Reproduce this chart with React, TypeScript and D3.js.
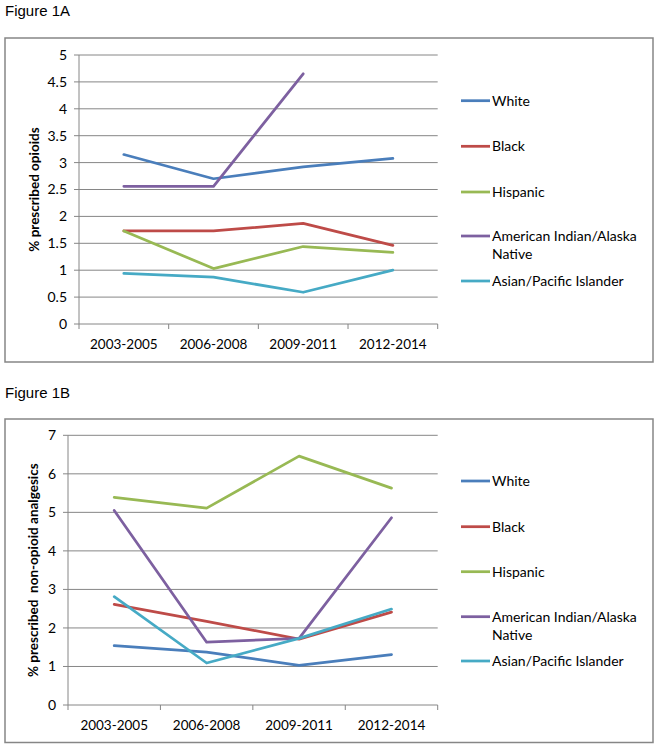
import React from "react";
import * as d3 from "d3";

const categories = ["2003-2005", "2006-2008", "2009-2011", "2012-2014"];
const seriesNames = ["White", "Black", "Hispanic", "American Indian/Alaska Native", "Asian/Pacific Islander"];
const legendLines = [["White"], ["Black"], ["Hispanic"], ["American Indian/Alaska", "Native"], ["Asian/Pacific Islander"]];
const colors = ["#4A7EBB", "#BE4B48", "#98B954", "#7D60A0", "#46AAC5"];

const opioidWhite = [3.15, 2.7, 2.92, 3.08];
const opioidBlack = [1.73, 1.73, 1.87, 1.46];
const opioidHispanic = [1.73, 1.03, 1.44, 1.33];
const opioidAIAN = [2.56, 2.56, 4.65, null];
const opioidAsian = [0.94, 0.87, 0.59, 1.0];
const opioidTicks = [0, 0.5, 1, 1.5, 2, 2.5, 3, 3.5, 4, 4.5, 5];

const nonOpioidWhite = [1.54, 1.37, 1.03, 1.31];
const nonOpioidBlack = [2.61, 2.17, 1.71, 2.41];
const nonOpioidHispanic = [5.39, 5.11, 6.46, 5.63];
const nonOpioidAIAN = [5.05, 1.63, 1.73, 4.86];
const nonOpioidAsian = [2.81, 1.09, 1.73, 2.49];
const nonOpioidTicks = [0, 1, 2, 3, 4, 5, 6, 7];

const FONT = "Lato, 'Open Sans', sans-serif";
const GRID = "#868686";

type Cfg = {
  title: string;
  titleY: number;
  frame: [number, number, number, number];
  plot: { left: number; right: number; top: number; bottom: number };
  yMax: number;
  ticks: number[];
  yLabel: string;
  yLabelX: number;
  tickLabelX: number;
  series: (number | null)[][];
  legendYs: number[];
};

function Panel({ cfg }: { cfg: Cfg }) {
  const { plot } = cfg;
  const x = d3.scaleBand<string>().domain(categories).range([plot.left, plot.right]);
  const y = d3.scaleLinear().domain([0, cfg.yMax]).range([plot.bottom, plot.top]);
  const line = d3
    .line<number | null>()
    .defined((d) => d !== null)
    .x((_, i) => (x(categories[i]) as number) + x.bandwidth() / 2)
    .y((d) => y(d as number));
  const [fx, fy, fw, fh] = cfg.frame;
  const tickXs = [...categories.map((c) => x(c) as number), plot.right];
  return (
    <g>
      <text x={5} y={cfg.titleY} fontFamily="'Liberation Sans', Arial, sans-serif" fontSize={15} fill="#000">
        {cfg.title}
      </text>
      <rect x={fx} y={fy} width={fw} height={fh} fill="#fff" stroke={GRID} strokeWidth={1.5} />
      {cfg.ticks.map((t) => (
        <g key={t}>
          {t > 0 && (
            <line x1={plot.left} x2={plot.right} y1={y(t)} y2={y(t)} stroke={GRID} strokeWidth={1} />
          )}
          <line x1={plot.left - 5} x2={plot.left} y1={y(t)} y2={y(t)} stroke={GRID} strokeWidth={1} />
          <text
            x={cfg.tickLabelX}
            y={y(t)}
            dy="0.35em"
            textAnchor="end"
            fontFamily={FONT}
            fontSize={14}
            fill="#000"
          >
            {t}
          </text>
        </g>
      ))}
      <line x1={plot.left} x2={plot.left} y1={plot.top} y2={plot.bottom} stroke={GRID} strokeWidth={1} />
      <line x1={plot.left} x2={plot.right} y1={plot.bottom} y2={plot.bottom} stroke={GRID} strokeWidth={1} />
      {tickXs.map((tx, i) => (
        <line key={i} x1={tx} x2={tx} y1={plot.bottom} y2={plot.bottom + 5} stroke={GRID} strokeWidth={1} />
      ))}
      {categories.map((c) => (
        <text
          key={c}
          x={(x(c) as number) + x.bandwidth() / 2}
          y={plot.bottom + 20}
          dy="0.35em"
          textAnchor="middle"
          fontFamily={FONT}
          fontSize={13.5}
          fill="#000"
        >
          {c}
        </text>
      ))}
      <text
        transform={`translate(${cfg.yLabelX},${(plot.top + plot.bottom) / 2}) rotate(-90)`}
        textAnchor="middle"
        dy="0.35em"
        fontFamily={FONT}
        fontSize={13.5}
        fontWeight="bold"
        fill="#000"
        style={{ whiteSpace: "pre" }}
      >
        {cfg.yLabel}
      </text>
      {cfg.series.map((s, i) => (
        <path
          key={i}
          d={line(s) || ""}
          fill="none"
          stroke={colors[i]}
          strokeWidth={2.75}
          strokeLinejoin="round"
          strokeLinecap="round"
        />
      ))}
      {seriesNames.map((n, i) => (
        <g key={n}>
          <line x1={461} x2={490} y1={cfg.legendYs[i]} y2={cfg.legendYs[i]} stroke={colors[i]} strokeWidth={2.75} />
          {legendLines[i].map((ln, j) => (
            <text
              key={j}
              x={492}
              y={cfg.legendYs[i] + j * 18}
              dy="0.35em"
              fontFamily={FONT}
              fontSize={14}
              fill="#000"
            >
              {ln}
            </text>
          ))}
        </g>
      ))}
    </g>
  );
}

export default function App() {
  const cfgA: Cfg = {
    title: "Figure 1A",
    titleY: 16,
    frame: [5, 38, 648, 324],
    plot: { left: 79, right: 437.7, top: 55, bottom: 324 },
    yMax: 5,
    ticks: opioidTicks,
    yLabel: "% prescribed opioids",
    yLabelX: 34,
    tickLabelX: 67,
    series: [opioidWhite, opioidBlack, opioidHispanic, opioidAIAN, opioidAsian],
    legendYs: [100.7, 146.3, 192, 236, 281],
  };
  const cfgB: Cfg = {
    title: "Figure 1B",
    titleY: 398,
    frame: [5, 419, 648, 323.5],
    plot: { left: 68, right: 437.7, top: 435.3, bottom: 705 },
    yMax: 7,
    ticks: nonOpioidTicks,
    yLabel: "% prescribed  non-opioid analgesics",
    yLabelX: 33,
    tickLabelX: 56,
    series: [nonOpioidWhite, nonOpioidBlack, nonOpioidHispanic, nonOpioidAIAN, nonOpioidAsian],
    legendYs: [481, 526.7, 571.7, 616.7, 661],
  };
  return (
    <svg
      width={658}
      height={748}
      style={{ position: "absolute", left: 0, top: 0, background: "#fff" }}
    >
      <rect width={658} height={748} fill="#fff" />
      <Panel cfg={cfgA} />
      <Panel cfg={cfgB} />
    </svg>
  );
}
